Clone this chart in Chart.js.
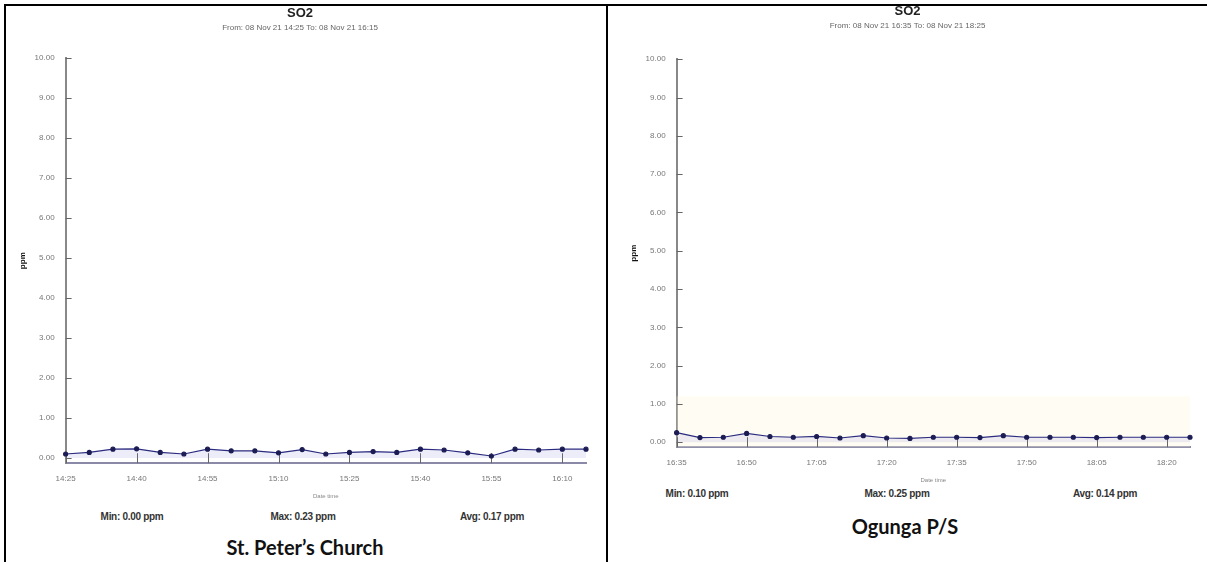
<!DOCTYPE html>
<html>
<head>
<meta charset="utf-8">
<script src="https://cdn.jsdelivr.net/npm/chart.js@4/dist/chart.umd.min.js"></script>
<style>
  body { margin: 0; background: #fff; width: 1207px; height: 562px; overflow: hidden; position: relative; font-family: "Liberation Sans", Arial, sans-serif; }
  .rule { position: absolute; background: #000; }
  .box { position: absolute; }
  .stat { position: absolute; font-size: 10px; font-weight: bold; color: #333; transform: translateX(-50%); white-space: nowrap; letter-spacing: -0.3px; }
  .cap { position: absolute; font-family: Lato, "Open Sans", sans-serif; font-weight: bold; font-size: 20px; color: #111; transform: translateX(-50%); white-space: nowrap; }
</style>
</head>
<body>
<div class="rule" style="left:4px;top:4px;width:1203px;height:2px"></div>
<div class="rule" style="left:4px;top:4px;width:2px;height:558px"></div>
<div class="rule" style="left:606px;top:4px;width:2px;height:558px"></div>

<div class="box" style="left:10px;top:2px;width:590px;height:502px"><canvas id="left"></canvas></div>
<div class="box" style="left:621px;top:0px;width:583px;height:488px"><canvas id="right"></canvas></div>

<div class="stat" style="left:132px;top:511px">Min: 0.00 ppm</div>
<div class="stat" style="left:303px;top:511px">Max: 0.23 ppm</div>
<div class="stat" style="left:492px;top:511px">Avg: 0.17 ppm</div>
<div class="cap" style="left:305px;top:535px">St. Peter’s Church</div>

<div class="stat" style="left:697px;top:488px">Min: 0.10 ppm</div>
<div class="stat" style="left:897px;top:488px">Max: 0.25 ppm</div>
<div class="stat" style="left:1105px;top:488px">Avg: 0.14 ppm</div>
<div class="cap" style="left:905px;top:514px">Ogunga P/S</div>

<script>
// SO2 readings, 5 minute steps
let leftTimes = ["14:25","14:30","14:35","14:40","14:45","14:50","14:55","15:00","15:05","15:10","15:15","15:20",
                 "15:25","15:30","15:35","15:40","15:45","15:50","15:55","16:00","16:05","16:10","16:15"];
let leftSO2 = [0.10, 0.14, 0.22, 0.23, 0.14, 0.10, 0.22, 0.18, 0.18, 0.13, 0.21, 0.10,
               0.14, 0.16, 0.14, 0.22, 0.20, 0.13, 0.05, 0.22, 0.20, 0.22, 0.22];

let rightTimes = ["16:35","16:40","16:45","16:50","16:55","17:00","17:05","17:10","17:15","17:20","17:25","17:30",
                  "17:35","17:40","17:45","17:50","17:55","18:00","18:05","18:10","18:15","18:20","18:25"];
let rightSO2 = [0.25, 0.12, 0.13, 0.23, 0.15, 0.13, 0.15, 0.11, 0.17, 0.11, 0.10, 0.13,
                0.13, 0.12, 0.17, 0.13, 0.13, 0.13, 0.12, 0.13, 0.13, 0.13, 0.13];

let yTicks = [0, 1, 2, 3, 4, 5, 6, 7, 8, 9, 10];

// ticks drawn inward like the original logger plots
let innerTicks = {
    id: 'innerTicks',
    beforeDatasetsDraw(chart, args, opts) {
        let c = chart.ctx, x = chart.scales.x, y = chart.scales.y;
        c.save();
        if (opts.band) {
            c.fillStyle = 'rgba(255,250,215,0.3)';
            let top = y.getPixelForValue(opts.band);
            c.fillRect(x.left, top, x.right - x.left, y.bottom - top);
        }
        c.strokeStyle = '#666';
        c.lineWidth = 1;
        yTicks.forEach(v => {
            let py = Math.round(y.getPixelForValue(v)) + 0.5;
            c.beginPath(); c.moveTo(x.left, py); c.lineTo(x.left + 6, py); c.stroke();
        });
        x.ticks.forEach((t, i) => {
            if (i % 3 !== 0) return;
            let px = Math.round(x.getPixelForTick(i)) + 0.5;
            c.beginPath(); c.moveTo(px, y.bottom); c.lineTo(px, y.bottom - 10); c.stroke();
        });
        c.restore();
    }
};

function makeChart(id, labels, values, subtitle, band, subPad) {
    let ctx = document.getElementById(id).getContext("2d");
    return new Chart(ctx, {
        type: 'line',
        data: {
            labels: labels,
            datasets: [{
                data: values,
                borderColor: '#2b2b80',
                borderWidth: 1.2,
                fill: 'origin',
                backgroundColor: 'rgba(130,130,220,0.14)',
                pointRadius: 2,
                pointBackgroundColor: '#1c1c55',
                pointBorderColor: '#1c1c55',
                tension: 0
            }]
        },
        options: {
            responsive: true,
            maintainAspectRatio: false,
            animation: false,
            layout: { padding: { left: 4, right: 14, top: 4, bottom: 0 } },
            plugins: {
                legend: { display: false },
                tooltip: { enabled: false },
                innerTicks: { band: band },
                title: {
                    display: true, text: 'SO2', color: '#222',
                    font: { family: 'Liberation Sans', size: 13, weight: 'bold' },
                    padding: { top: 0, bottom: 1 }
                },
                subtitle: {
                    display: true, text: subtitle, color: '#666',
                    font: { family: 'Liberation Sans', size: 8 },
                    padding: { top: 0, bottom: subPad }
                }
            },
            scales: {
                x: {
                    offset: false,
                    grid: { display: false },
                    border: { color: '#8a8aa8', width: 2 },
                    ticks: {
                        autoSkip: false, maxRotation: 0, color: '#777', padding: 3,
                        font: { family: 'Liberation Sans', size: 8 },
                        callback: function (v, i) { return i % 3 === 0 ? this.getLabelForValue(v) : ''; }
                    },
                    title: {
                        display: true, text: 'Date time', color: '#888',
                        font: { family: 'Liberation Sans', size: 6 }, padding: { top: 6 }
                    }
                },
                y: {
                    min: -0.13, max: 10,
                    afterBuildTicks: s => { s.ticks = yTicks.map(v => ({ value: v })); },
                    grid: { display: false },
                    border: { color: '#888', width: 2 },
                    ticks: {
                        color: '#777', padding: 3,
                        font: { family: 'Liberation Sans', size: 8 },
                        callback: v => v.toFixed(2)
                    },
                    title: {
                        display: true, text: 'ppm', color: '#111',
                        font: { family: 'Liberation Sans', size: 8, weight: 'bold' }, padding: { bottom: 4 }
                    }
                }
            }
        },
        plugins: [innerTicks]
    });
}

makeChart("left", leftTimes, leftSO2, 'From: 08 Nov 21 14:25 To: 08 Nov 21 16:15', null, 26);
makeChart("right", rightTimes, rightSO2, 'From: 08 Nov 21 16:35 To: 08 Nov 21 18:25', 1.2, 29);
</script>
</body>
</html>
